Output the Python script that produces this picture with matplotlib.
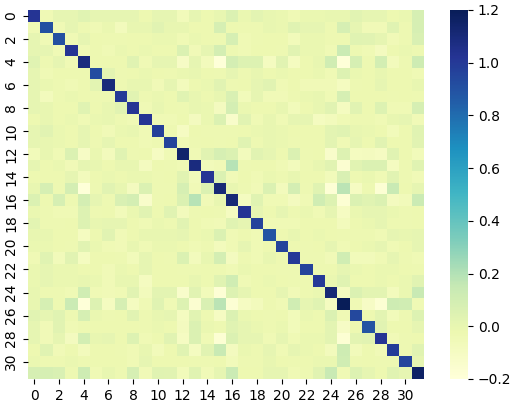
import numpy as np
import matplotlib
matplotlib.use("Agg")
import matplotlib.pyplot as plt
import seaborn as sns

r00 = [1.02,-0.04,0.01,0.01,0.04,0.01,0.01,0.01,0.01,-0.02,0.01,0.01,-0.06,0.01,-0.02,0.0,0.06,-0.01,0.02,0.0,-0.01,-0.04,-0.01,-0.01,0.0,0.0,0.03,0.01,0.01,-0.02,-0.01,0.08]
r01 = [0.91,-0.04,0.01,-0.03,-0.04,-0.01,-0.07,0.0,0.0,0.03,0.0,0.0,-0.02,-0.02,0.08,-0.02,-0.03,-0.03,0.0,-0.01,0.04,0.01,0.01,-0.03,0.08,0.01,-0.05,-0.05,0.04,-0.03,0.08]
r02 = [0.91,-0.04,0.01,-0.02,-0.03,-0.03,-0.02,-0.02,-0.01,-0.01,-0.04,-0.01,-0.02,-0.03,0.08,-0.04,-0.03,-0.02,-0.02,-0.06,-0.01,-0.01,-0.03,-0.03,0.04,0.03,0.01,-0.05,-0.03,0.07]
r03 = [1.02,-0.04,-0.02,-0.04,-0.01,-0.02,-0.01,-0.02,-0.02,0.06,-0.05,0.01,0.09,-0.03,-0.04,-0.02,-0.02,-0.03,0.03,-0.01,-0.01,-0.04,0.13,-0.03,-0.04,-0.08,-0.02,-0.01,-0.03]
r04 = [1.09,-0.02,-0.02,-0.02,0.04,-0.04,0.01,0.01,-0.11,0.01,-0.07,-0.19,0.09,0.05,0.05,-0.09,0.03,-0.09,-0.02,0.0,0.11,-0.19,0.08,-0.03,0.1,-0.07,-0.03,0.12]
r05 = [0.92,0.02,-0.03,-0.02,-0.01,-0.02,-0.03,-0.01,0.0,-0.02,-0.03,0.01,-0.03,0.0,-0.02,-0.01,-0.02,-0.02,-0.01,-0.04,0.05,-0.01,-0.02,0.0,-0.02,-0.02,-0.04]
r06 = [1.1,-0.03,0.0,0.0,-0.05,0.01,-0.07,-0.02,-0.01,0.03,-0.03,-0.02,0.01,0.03,-0.04,-0.02,-0.05,-0.05,-0.05,-0.09,-0.03,-0.02,0.01,-0.02,-0.02,0.0]
r07 = [1.0,0.03,-0.03,-0.01,-0.02,0.04,0.0,-0.02,0.0,0.07,-0.06,0.01,-0.05,-0.05,-0.03,-0.01,0.0,-0.04,0.08,-0.02,-0.02,-0.02,-0.03,-0.02,-0.03]
r08 = [1.02,-0.04,0.0,-0.02,-0.03,0.0,-0.01,-0.08,0.09,-0.01,-0.02,-0.02,0.0,-0.06,-0.02,0.0,0.03,-0.09,0.03,-0.02,0.05,-0.04,-0.04,0.08]
r09 = [1.02,-0.04,-0.04,-0.02,-0.08,-0.01,0.06,-0.13,0.03,-0.04,0.0,-0.04,0.01,0.01,-0.09,-0.07,-0.04,-0.03,-0.03,-0.04,0.0,0.01,-0.05]
r10 = [0.98,-0.03,-0.1,-0.02,-0.03,-0.03,-0.03,-0.02,-0.01,0.0,-0.01,-0.02,-0.02,-0.02,0.02,0.04,0.0,-0.01,-0.02,-0.06,-0.02,0.04]
r11 = [0.96,-0.04,-0.03,-0.02,-0.03,-0.02,0.04,-0.03,0.0,-0.01,-0.03,-0.02,-0.02,0.02,-0.04,0.01,-0.02,0.03,-0.02,-0.02,0.03]
r12 = [1.14,-0.04,0.03,0.08,0.06,-0.07,0.03,0.01,-0.02,0.06,-0.03,-0.02,-0.13,0.05,-0.09,-0.08,-0.1,0.04,-0.02,-0.06]
r13 = [1.09,-0.06,-0.05,0.19,-0.03,-0.02,-0.02,-0.04,-0.07,-0.03,0.0,0.03,-0.16,0.03,0.06,0.06,-0.09,-0.03,0.04]
r14 = [1.02,0.06,-0.05,-0.02,-0.04,-0.01,-0.03,0.0,-0.02,-0.02,-0.06,0.07,-0.03,-0.01,-0.04,0.03,-0.03,-0.05]
r15 = [1.11,0.0,-0.03,-0.05,0.06,-0.07,0.09,-0.03,0.04,-0.18,0.18,-0.1,-0.03,-0.17,0.14,-0.02,0.01]
r16 = [1.11,-0.09,0.04,-0.04,-0.04,-0.08,-0.04,0.11,0.05,-0.17,0.06,0.04,0.06,-0.08,-0.06,0.13]
r17 = [1.02,0.01,-0.02,0.01,-0.03,-0.01,-0.04,0.01,-0.1,-0.01,0.01,0.01,-0.01,-0.03,-0.02]
r18 = [0.96,-0.04,-0.04,-0.04,-0.02,-0.02,-0.02,-0.07,-0.02,-0.01,0.01,-0.03,-0.03,-0.02]
r19 = [0.89,-0.02,0.0,-0.02,-0.01,-0.02,-0.03,-0.03,-0.03,-0.04,0.01,0.0,0.01]
r20 = [0.96,-0.02,-0.03,-0.02,0.01,-0.04,-0.02,-0.01,0.01,-0.04,-0.02,0.01]
r21 = [1.0,-0.03,-0.03,-0.05,0.11,-0.06,-0.06,-0.04,0.01,-0.03,-0.04]
r22 = [0.96,-0.02,-0.02,0.01,-0.01,-0.02,-0.01,-0.01,-0.02,-0.03]
r23 = [1.0,-0.01,0.04,-0.02,-0.02,-0.01,-0.02,-0.01,0.03]
r24 = [1.11,-0.09,0.06,0.02,0.02,-0.07,-0.01,0.14]
r25 = [1.2,-0.04,-0.11,-0.17,0.12,0.11,-0.04]
r26 = [0.94,-0.02,0.02,-0.06,-0.03,0.05]
r27 = [0.89,0.03,-0.02,-0.02,0.01]
r28 = [1.02,-0.05,-0.03,-0.02]
r29 = [0.99,-0.03,0.04]
r30 = [0.95,0.01]
r31 = [1.16]

upper = [r00,r01,r02,r03,r04,r05,r06,r07,r08,r09,r10,r11,r12,r13,r14,r15,
         r16,r17,r18,r19,r20,r21,r22,r23,r24,r25,r26,r27,r28,r29,r30,r31]
n = len(upper)
matrix = np.zeros((n, n))
for i, row in enumerate(upper):
    matrix[i, i:] = row
    matrix[i:, i] = row

W, H = 514, 404
fig = plt.figure(figsize=(W/100, H/100), dpi=100)
ax = fig.add_axes([28/W, 1-379/H, 396/W, 369/H])
cax = fig.add_axes([450/W, 1-379/H, 18/W, 369/H])
sns.heatmap(matrix, ax=ax, cbar_ax=cax, cmap="YlGnBu", vmin=-0.2, vmax=1.2)
fig.savefig("out.png", dpi=100)
